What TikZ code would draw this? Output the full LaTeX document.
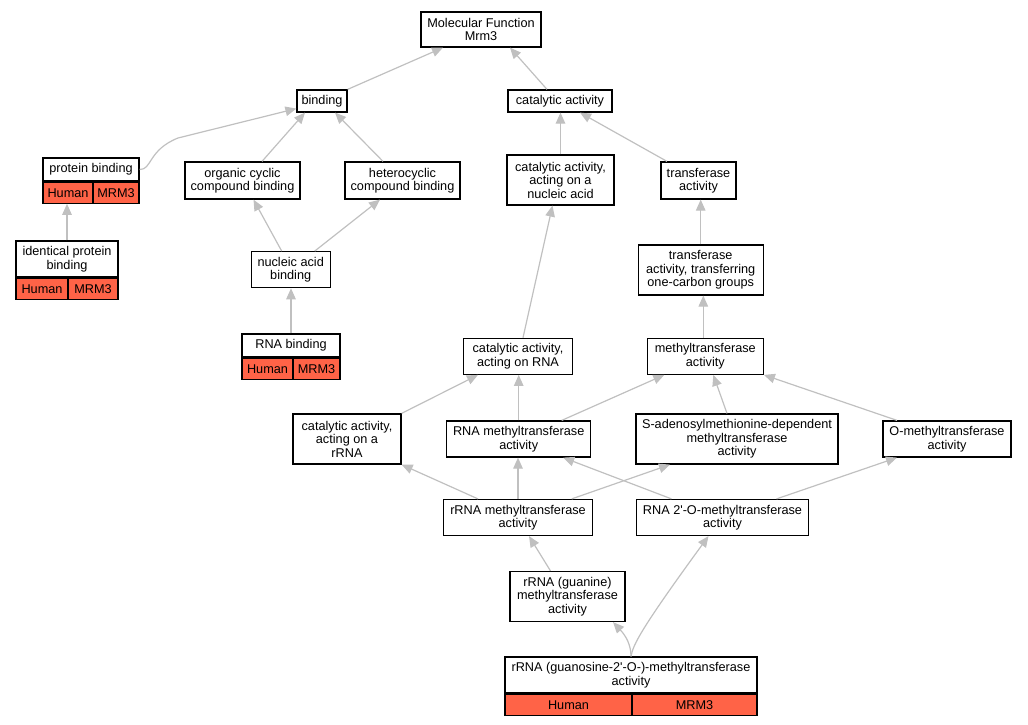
\documentclass[tikz,border=0pt]{standalone}
\usepackage{fontspec}
\setmainfont{Liberation Sans}
\usetikzlibrary{arrows.meta}
\definecolor{edgegray}{RGB}{192,192,192}
\definecolor{annored}{RGB}{255,99,71}

\begin{document}
\begin{tikzpicture}[x=1pt, y=-1pt,
  term/.style={draw=black, line width=1.2pt, fill=white, align=center, inner sep=0pt, font=\fontsize{12.7}{13.5}\selectfont},
  anno/.style={draw=black, line width=1.2pt, fill=annored, inner sep=0pt, minimum height=21pt, font=\fontsize{12.7}{13.5}\selectfont},
  isa/.style={draw=edgegray, line width=1.2pt, -{Triangle[length=11pt, width=9.5pt]}}]
\useasboundingbox (0,0) rectangle (1028,725);
\node [term, minimum width=120pt, minimum height=35pt] (mf) at (481,29.5) {Molecular Function\\Mrm3};
\node [term, minimum width=50pt, minimum height=22pt] (bind) at (322,101) {binding};
\node [term, minimum width=104pt, minimum height=22pt] (cat) at (560,101) {catalytic activity};
\node [term, minimum width=96pt, minimum height=23pt] (pb) at (91,169.5) {protein binding};
\node [anno, minimum width=50pt, anchor=north west] (pb-h) at (pb.south west) {Human};
\node [anno, minimum width=46pt, anchor=north east] (pb-m) at (pb.south east) {MRM3};
\node [term, minimum width=115pt, minimum height=37pt] (occ) at (242.5,180.5) {organic cyclic\\compound binding};
\node [term, minimum width=115pt, minimum height=37pt] (hcb) at (402.5,180.5) {heterocyclic\\compound binding};
\node [term, minimum width=107pt, minimum height=50pt] (cnuc) at (560.5,180) {catalytic activity,\\acting on a\\nucleic acid};
\node [term, minimum width=75pt, minimum height=37pt] (tra) at (698.5,180.5) {transferase\\activity};
\node [term, minimum width=102pt, minimum height=36pt] (ipb) at (67,259) {identical protein\\binding};
\node [anno, minimum width=52pt, anchor=north west] (ipb-h) at (ipb.south west) {Human};
\node [anno, minimum width=50pt, anchor=north east] (ipb-m) at (ipb.south east) {MRM3};
\node [term, minimum width=79pt, minimum height=36pt] (nab) at (290.7,269.7) {nucleic acid\\binding};
\node [term, minimum width=125pt, minimum height=50pt] (trc) at (700.7,270) {transferase\\activity, transferring\\one-carbon groups};
\node [term, minimum width=98pt, minimum height=23pt] (rnab) at (291,345.5) {RNA binding};
\node [anno, minimum width=51pt, anchor=north west] (rnab-h) at (rnab.south west) {Human};
\node [anno, minimum width=47pt, anchor=north east] (rnab-m) at (rnab.south east) {MRM3};
\node [term, minimum width=109pt, minimum height=36pt] (crna) at (518,356.3) {catalytic activity,\\acting on RNA};
\node [term, minimum width=116pt, minimum height=36pt] (mta) at (705.3,356.3) {methyltransferase\\activity};
\node [term, minimum width=108pt, minimum height=50pt] (crr) at (347,439) {catalytic activity,\\acting on a\\rRNA};
\node [term, minimum width=144pt, minimum height=36pt] (rmt) at (518.7,439) {RNA methyltransferase\\activity};
\node [term, minimum width=202pt, minimum height=50pt] (sam) at (737,439) {S-adenosylmethionine-dependent\\methyltransferase\\activity};
\node [term, minimum width=128pt, minimum height=36pt] (omt) at (947,439) {O-methyltransferase\\activity};
\node [term, minimum width=149pt, minimum height=36pt] (rrmt) at (518,517.5) {rRNA methyltransferase\\activity};
\node [term, minimum width=172pt, minimum height=36pt] (r2o) at (722.5,517.5) {RNA 2\textquotesingle-O-methyltransferase\\activity};
\node [term, minimum width=115pt, minimum height=50pt] (rgua) at (567.5,596.5) {rRNA (guanine)\\methyltransferase\\activity};
\node [term, minimum width=252pt, minimum height=36pt] (rgo) at (631,675) {rRNA (guanosine-2\textquotesingle-O-)-methyltransferase\\activity};
\node [anno, minimum width=127pt, anchor=north west] (rgo-h) at (rgo.south west) {Human};
\node [anno, minimum width=125pt, anchor=north east] (rgo-m) at (rgo.south east) {MRM3};
\draw [isa] (bind.north east) -- ([xshift=-38pt]mf.south);
\draw [isa] ([xshift=-13pt]cat.north) -- ([xshift=29pt]mf.south);
\draw [isa] (pb.east) .. controls (152,170) and (148,150) .. (178,138) -- ([yshift=4pt]bind.south west);
\draw [isa] ([xshift=19.5pt]occ.north) -- ([xshift=-17pt]bind.south);
\draw [isa] ([xshift=-19.5pt]hcb.north) -- ([xshift=13pt]bind.south);
\draw [isa] (cnuc.north) -- (cnuc.north |- cat.south);
\draw [isa] ([xshift=-31.5pt]tra.north) -- ([xshift=20pt]cat.south);
\draw [isa] (ipb.north) -- (ipb.north |- pb-h.south);
\draw [isa] ([xshift=-9pt]nab.north) -- ([xshift=11pt]occ.south);
\draw [isa] ([xshift=24pt]nab.north) -- ([xshift=-22.5pt]hcb.south);
\draw [isa] (rnab.north) -- (rnab.north |- nab.south);
\draw [isa] (trc.north) -- (trc.north |- tra.south);
\draw [isa] ([xshift=5pt]crna.north) -- ([xshift=-8pt]cnuc.south);
\draw [isa] ([xshift=-2pt]mta.north) -- ([xshift=-2pt]mta.north |- trc.south);
\draw [isa] (crr.north east) -- ([xshift=-40pt]crna.south);
\draw [isa] (rmt.north) -- (rmt.north |- crna.south);
\draw [isa] ([xshift=43pt]rmt.north) -- ([xshift=-41pt]mta.south);
\draw [isa] ([xshift=-10pt]sam.north) -- ([xshift=8pt]mta.south);
\draw [isa] ([xshift=-50pt]omt.north) -- (mta.south east);
\draw [isa] ([xshift=-40pt]rrmt.north) -- (crr.south east);
\draw [isa] (rrmt.north) -- (rrmt.north |- rmt.south);
\draw [isa] ([xshift=53.7pt]rrmt.north) -- ([xshift=-67pt]sam.south);
\draw [isa] ([xshift=-51pt]r2o.north) -- ([xshift=44.5pt]rmt.south);
\draw [isa] ([xshift=54pt]r2o.north) -- ([xshift=-50pt]omt.south);
\draw [isa] ([xshift=-17pt]rgua.north) -- ([xshift=11pt]rrmt.south);
\draw [isa] (rgo.north) .. controls (631,645) and (626,636) .. ([xshift=45.5pt]rgua.south);
\draw [isa] (rgo.north) .. controls (633,645) and (640,630) .. ([xshift=-14pt]r2o.south);
\end{tikzpicture}
\end{document}
